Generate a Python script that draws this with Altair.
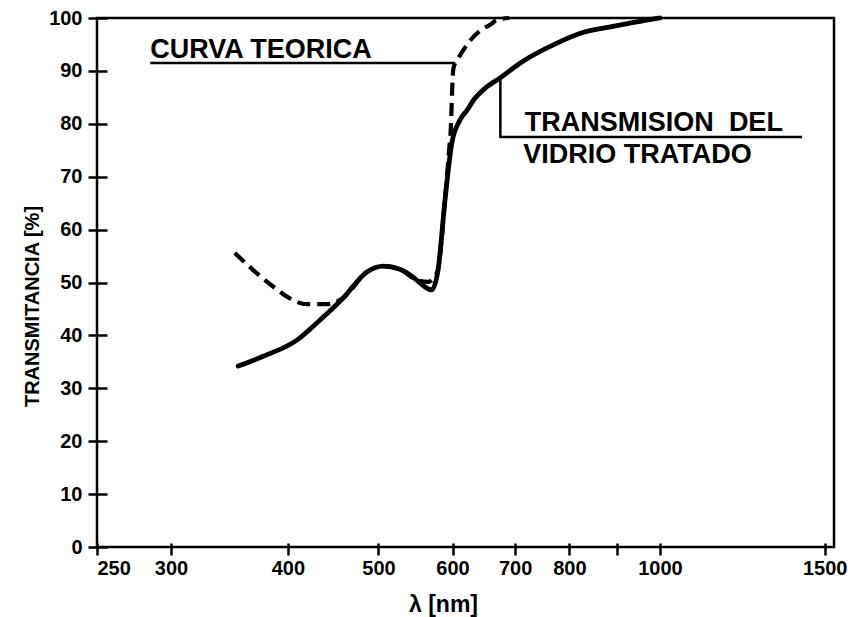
import altair as alt
import pandas as pd

# ---- data ----
solid_wl = [354, 376, 409, 433, 458, 486, 506, 527, 549, 554, 570, 579, 589, 596, 599,
            611, 622, 632, 653, 675, 709, 775, 822, 891, 968, 1000]
solid_T = [34.2, 36.0, 39.1, 42.9, 47.0, 52.0, 53.1, 52.5, 50.5, 49.9, 48.6, 52.4, 65.6, 73.7, 76.4,
           80.7, 82.6, 84.5, 87.0, 88.7, 91.5, 95.2, 97.1, 98.4, 99.6, 100.0]

dash_wl = [351, 367, 386, 402, 419, 440, 458, 486, 506, 527, 549, 565, 578, 589, 595, 597,
           601, 604, 607, 627, 647, 658, 669, 690]
dash_T = [55.6, 52.4, 49.2, 47.0, 45.9, 45.9, 47.0, 52.0, 53.1, 52.5, 50.5, 50.1, 52.0, 65.6, 75.0, 78.0,
          90.2, 91.5, 92.1, 95.8, 98.0, 98.7, 99.6, 100.0]

x_ticks = [250, 300, 400, 500, 600, 700, 800, 900, 1000, 1500]
y_ticks = [0, 10, 20, 30, 40, 50, 60, 70, 80, 90, 100]
x_domain = [250, 1535]

ann_text = ["CURVA TEORICA", "TRANSMISION\u00a0\u00a0DEL", "VIDRIO TRATADO"]
ann_wl = [285, 717, 714]
ann_T = [92.5, 78.6, 72.6]

lead1_wl = [285, 604]
lead1_T = [91.5, 91.5]
lead2_wl = [675, 675, 1419]
lead2_T = [88.7, 77.5, 77.5]

FONT = "Liberation Sans"

solid_df = pd.DataFrame({"wl": solid_wl, "T": solid_T})
dash_df = pd.DataFrame({"wl": dash_wl, "T": dash_T})
ann_df = pd.DataFrame({"wl": ann_wl, "T": ann_T, "txt": ann_text})
lead1_df = pd.DataFrame({"wl": lead1_wl, "T": lead1_T, "o": list(range(len(lead1_wl)))})
lead2_df = pd.DataFrame({"wl": lead2_wl, "T": lead2_T, "o": list(range(len(lead2_wl)))})

x_enc = alt.X(
    "wl:Q",
    scale=alt.Scale(type="log", domain=x_domain, nice=False),
    axis=alt.Axis(
        values=x_ticks, format="d",
        labelExpr="datum.value == 900 ? '' : datum.label",
        domain=False, grid=False, offset=-4, tickSize=12, tickWidth=2.5, tickColor="black",
        labelFont=FONT, labelFontSize=20, labelFontWeight="bold", labelColor="black",
        labelPadding=3, labelFlush=True,
        title="λ [nm]", titleFont=FONT, titleFontSize=23, titleFontWeight="bold", titleColor="black",
        titleX=346, titleY=68, titleAlign="center", titleBaseline="alphabetic",
    ),
)
y_enc = alt.Y(
    "T:Q",
    scale=alt.Scale(domain=[0, 100], nice=False),
    axis=alt.Axis(
        values=y_ticks, domain=False, grid=False, offset=-10, tickSize=19, tickWidth=2.5,
        tickColor="black",
        labelFont=FONT, labelFontSize=20, labelFontWeight="bold", labelColor="black",
        labelPadding=6,
        title="TRANSMITANCIA [%]", titleFont=FONT, titleFontSize=20, titleFontWeight="bold",
        titleColor="black", titleX=-69, titleY=288, titleAngle=-90, titleAlign="center",
        titleBaseline="alphabetic",
    ),
)

solid = alt.Chart(solid_df).mark_line(
    color="black", strokeWidth=4.8, interpolate="monotone", strokeCap="round"
).encode(x=x_enc, y=y_enc)

dashed = alt.Chart(dash_df).mark_line(
    color="black", strokeWidth=4.2, interpolate="monotone", strokeDash=[13, 7]
).encode(x=x_enc, y=y_enc)

lead1 = alt.Chart(lead1_df).mark_line(color="black", strokeWidth=2.5).encode(
    x=x_enc, y=y_enc, order="o:Q")
lead2 = alt.Chart(lead2_df).mark_line(color="black", strokeWidth=2.5).encode(
    x=x_enc, y=y_enc, order="o:Q")

labels = alt.Chart(ann_df).mark_text(
    align="left", baseline="alphabetic", font=FONT, fontSize=27, fontWeight="bold", color="black"
).encode(x=x_enc, y=y_enc, text="txt:N")

chart = alt.layer(solid, dashed, lead1, lead2, labels).properties(
    width=737, height=529,
    padding={"left": 97, "top": 18, "right": 14, "bottom": 70},
    autosize=alt.AutoSizeParams(type="none"),
    background="white",
).configure_view(stroke="black", strokeWidth=2.5)

chart.save("out.html", embed_options={"renderer": "svg", "actions": False})
